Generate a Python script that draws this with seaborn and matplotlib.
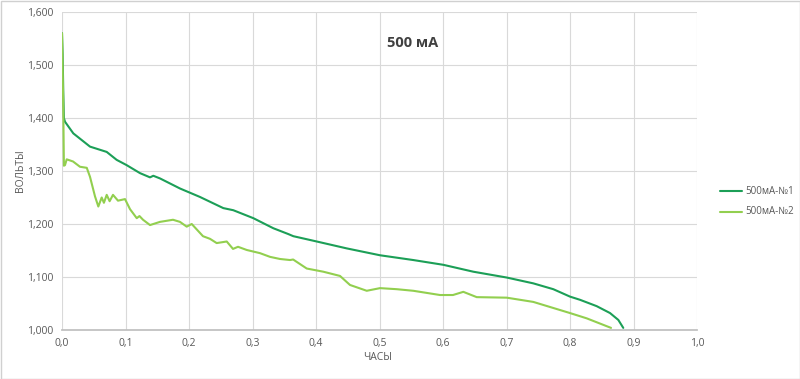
import matplotlib
matplotlib.use("Agg")
import matplotlib.pyplot as plt
import seaborn as sns
import pandas as pd
from matplotlib.patches import Rectangle

# Series 1: 500мА-№1
hours_1 = [0.000, 0.001, 0.002, 0.003, 0.0047, 0.0178, 0.0441, 0.0704, 0.0861, 0.1019,
           0.1228, 0.1386, 0.1438, 0.1543, 0.1858, 0.2173, 0.2540, 0.2698, 0.3013,
           0.3328, 0.3564, 0.3643, 0.4011, 0.4483, 0.5008, 0.5532, 0.6005, 0.6477,
           0.7003, 0.7422, 0.7737, 0.8000, 0.8157, 0.8420, 0.8630, 0.8761, 0.8839]
volts_1 = [1.560, 1.520, 1.450, 1.400, 1.393, 1.371, 1.346, 1.336, 1.321, 1.311,
           1.296, 1.288, 1.291, 1.286, 1.267, 1.251, 1.230, 1.226, 1.211,
           1.192, 1.181, 1.177, 1.167, 1.154, 1.141, 1.132, 1.123, 1.110,
           1.099, 1.088, 1.077, 1.063, 1.057, 1.045, 1.032, 1.019, 1.004]

# Series 2: 500мА-№2
hours_2 = [0.000, 0.002, 0.003, 0.0047, 0.0074, 0.0173, 0.0283, 0.0390, 0.0441, 0.0520,
           0.0572, 0.0625, 0.0660, 0.0704, 0.0750, 0.0803, 0.0882, 0.0992, 0.1071,
           0.1177, 0.1220, 0.1276, 0.1386, 0.1543, 0.1748, 0.1858, 0.1964, 0.2043,
           0.2220, 0.2331, 0.2436, 0.2594, 0.2693, 0.2772, 0.2909, 0.3118, 0.3276,
           0.3433, 0.3591, 0.3640, 0.3854, 0.4115, 0.4378, 0.4535, 0.4799, 0.5008,
           0.5271, 0.5532, 0.5953, 0.6157, 0.6320, 0.6531, 0.7003, 0.7422, 0.7999,
           0.8263, 0.8646]
volts_2 = [1.560, 1.420, 1.310, 1.311, 1.322, 1.318, 1.308, 1.306, 1.289, 1.252,
           1.233, 1.250, 1.240, 1.255, 1.243, 1.255, 1.244, 1.247, 1.228,
           1.211, 1.215, 1.208, 1.198, 1.204, 1.208, 1.204, 1.195, 1.200,
           1.177, 1.172, 1.164, 1.167, 1.153, 1.157, 1.151, 1.145, 1.138,
           1.134, 1.132, 1.133, 1.116, 1.110, 1.102, 1.085, 1.074, 1.079,
           1.077, 1.074, 1.066, 1.066, 1.072, 1.062, 1.061, 1.053, 1.032,
           1.022, 1.004]

series_names = ["500мА-№1", "500мА-№2"]
series_colors = ["#1c9f57", "#92cf4f"]
x_ticks = [0.0, 0.1, 0.2, 0.3, 0.4, 0.5, 0.6, 0.7, 0.8, 0.9, 1.0]
x_tick_labels = ["0,0", "0,1", "0,2", "0,3", "0,4", "0,5", "0,6", "0,7", "0,8", "0,9", "1,0"]
y_ticks = [1.0, 1.1, 1.2, 1.3, 1.4, 1.5, 1.6]
y_tick_labels = ["1,000", "1,100", "1,200", "1,300", "1,400", "1,500", "1,600"]
title_text = "500 мА"
x_label = "ЧАСЫ"
y_label = "ВОЛЬТЫ"

df = pd.concat([
    pd.DataFrame({"hours": hours_1, "volts": volts_1, "series": series_names[0]}),
    pd.DataFrame({"hours": hours_2, "volts": volts_2, "series": series_names[1]}),
], ignore_index=True)

sns.set_theme(style="white")
plt.rcParams["font.family"] = ["Open Sans", "DejaVu Sans"]

fig = plt.figure(figsize=(8.0, 3.79), dpi=100)
ax = fig.add_axes([62/800, 1 - 330/379, (697-62)/800, (330-12)/379])

sns.lineplot(data=df, x="hours", y="volts", hue="series", palette=series_colors,
             sort=False, estimator=None, linewidth=1.5, ax=ax, legend=False, zorder=3)

ax.set_xlim(0, 1.0)
ax.set_ylim(1.0, 1.6)
ax.set_xticks(x_ticks)
ax.set_xticklabels(x_tick_labels)
ax.set_yticks(y_ticks)
ax.set_yticklabels(y_tick_labels)
ax.tick_params(axis="both", labelsize=7.5, colors="#595959", length=0, pad=6)
ax.grid(True, color="#d9d9d9", linewidth=0.8)
for s in ["top", "right", "left"]:
    ax.spines[s].set_visible(False)
ax.spines["bottom"].set_color("#bfbfbf")
ax.set_xlabel("")
ax.set_ylabel("")

fig.text(378/800, 1 - 358/379, x_label, ha="center", va="center", fontsize=7.5, color="#595959")
fig.text(20/800, 1 - 171/379, y_label, ha="center", va="center", fontsize=7.5,
         color="#595959", rotation=90)
fig.text(413/800, 1 - 43/379, title_text, ha="center", va="center", fontsize=10.5,
         fontweight="bold", color="#404040")

# legend
for i, (name, col) in enumerate(zip(series_names, series_colors)):
    yy = 1 - (191 + 21 * i)/379
    fig.add_artist(plt.Line2D([720/800, 742/800], [yy, yy], color=col, linewidth=1.5,
                              transform=fig.transFigure))
    fig.text(745/800, yy, name, ha="left", va="center", fontsize=7, color="#595959")

fig.add_artist(Rectangle((0.5/800, 0.5/379), 799/800, 378/379, transform=fig.transFigure,
                         fill=False, edgecolor="#d0d0d0", linewidth=1))

fig.savefig("out.png", dpi=100)
